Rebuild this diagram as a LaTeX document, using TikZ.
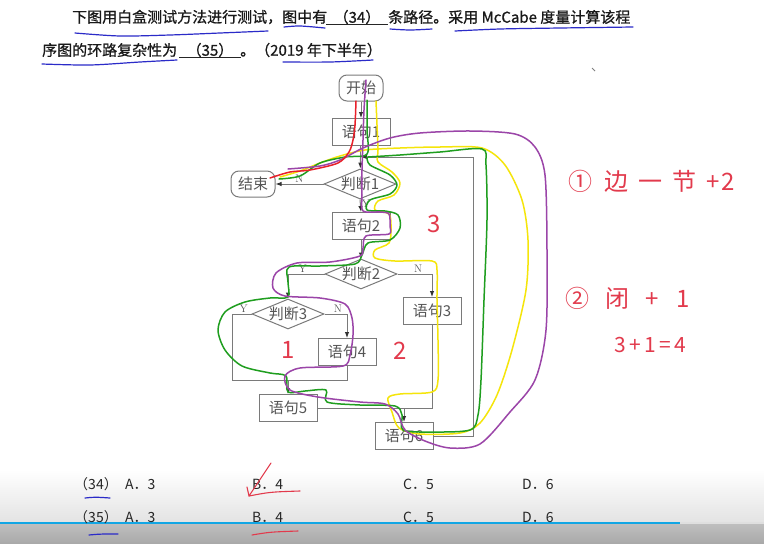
\documentclass[tikz,border=0pt]{standalone}
\usepackage{fontspec}
\newfontfamily\cjk{Noto Sans CJK SC}
\newfontfamily\cjkhead{Noto Sans CJK SC}[FakeBold=0.8]
\usetikzlibrary{shapes.geometric,arrows.meta,positioning,calc}

\definecolor{flowgray}{HTML}{7A7A7A}
\definecolor{textgray}{HTML}{555555}
\definecolor{penred}{HTML}{E8202A}
\definecolor{pengreen}{HTML}{1F9E1F}
\definecolor{penyellow}{HTML}{F5E50A}
\definecolor{penpurple}{HTML}{9B45A8}
\definecolor{penblue}{HTML}{2B2BC8}
\definecolor{inkred}{HTML}{E23A4C}
\definecolor{barblue}{HTML}{12A6E4}

\tikzset{
  hdr/.style={font=\cjkhead\fontsize{15}{18}\selectfont, text=black!90, inner sep=0pt},
  blank/.style={hdr, minimum width=61pt},
  opt/.style={font=\cjk\fontsize{14}{16}\selectfont, text=black!85, inner sep=0pt},
  flow/.style={draw=flowgray, line width=1pt},
  arr/.style={flow, -{Latex[length=6pt, width=4.5pt, color=black!80]}},
  box/.style={rectangle, draw=flowgray, line width=1pt, minimum width=58pt, minimum height=27pt,
    inner sep=0pt, font=\cjk\fontsize{15}{15}\selectfont, text=textgray},
  term/.style={box, rounded corners=8pt, minimum width=44pt, minimum height=26pt},
  dec/.style={diamond, draw=flowgray, line width=1pt, minimum width=72pt, minimum height=30pt,
    inner sep=0pt, label={[font=\cjk\fontsize{15}{15}\selectfont, text=textgray]center:#1}},
  yn/.style={font=\fontsize{11}{11}\selectfont, text=textgray, inner sep=1pt},
  pen/.style={line width=1.5pt, line cap=round, line join=round},
  ink/.style={font=\cjk\fontsize{24}{24}\selectfont, text=inkred, inner sep=0pt}
}

\begin{document}
\begin{tikzpicture}[x=1pt, y=-1pt]
  \useasboundingbox (0,0) rectangle (764,544);
  \fill[white] (0,0) rectangle (764,544);
  % player bar at the bottom
  \shade[top color=white, bottom color=gray!22] (0,470) rectangle (764,523);
  \shade[top color=gray!50, bottom color=gray!68] (0,523) rectangle (764,544);
  \draw[gray!25, line width=2.5pt] (680,523) -- (764,523);
  \draw[barblue, line width=2.5pt] (0,523) -- (680,523);

  % question text
  \node[hdr, anchor=west] (t1) at (72,17) {下图用白盒测试方法进行测试，图中有};
  \node[blank] (b34) at (357,17) {（34）};
  \node[hdr, anchor=west] (t2) at (388,17) {条路径。采用 McCabe 度量计算该程};
  \node[hdr, anchor=west] (t3) at (42,50) {序图的环路复杂性为};
  \node[blank] (b35) at (210,50) {（35）};
  \node[hdr, anchor=west] (t4) at (240,50) {。（2019 年下半年）};
  \draw[black!85, line width=0.8pt] (b34.south west) -- (b34.south east);
  \draw[black!85, line width=0.8pt] (b35.south west) -- (b35.south east);

  % flowchart
  \node[term] (start) at (361,88) {开始};
  \node[box] (s1) at (361,132) {语句1};
  \node[dec=判断1] (j1) at (360,184) {};
  \node[term] (fin) at (253,184) {结束};
  \node[box] (s2) at (361,226) {语句2};
  \node[dec=判断2] (j2) at (361,274) {};
  \node[dec=判断3] (j3) at (288,314) {};
  \node[box] (s3) at (432,311) {语句3};
  \node[box] (s4) at (347,352) {语句4};
  \node[box] (s5) at (288,408) {语句5};
  \node[box] (s6) at (404,436) {语句6};

  \coordinate (jl) at (232,380);
  \coordinate (jr) at (s4.south |- jl);
  \coordinate (m3) at (s5.north |- jl);
  \coordinate (m5) at (s6.north |- s5.east);
  \coordinate (lp) at (473,157);
  \coordinate (m1) at (s1.south |- lp);

  \draw[arr] (start) -- (s1);
  \draw[arr] (s1) -- (j1);
  \draw[arr] (j1.west) -- node[yn, above] {N} (fin.east);
  \draw[arr] (j1.south) -- node[yn, right, pos=0.3] {Y} (s2.north);
  \draw[arr] (s2) -- (j2);
  \draw[arr] (j2.west) -| node[yn, above, pos=0.3] {Y} (j3.north);
  \draw[arr] (j2.east) -| node[yn, above, pos=0.3] {N} (s3.north);
  \draw[arr] (j3.east) -| node[yn, above, pos=0.3] {N} (s4.north);
  \draw[flow] (j3.west) -| node[yn, above, pos=0.2] {Y} (jl) -- (jr) -- (s4.south);
  \draw[arr] (m3) -- (s5.north);
  \draw[flow] (s3.south) |- (s5.east);
  \draw[arr] (m5) -- (s6.north);
  \draw[arr] (s6.east) -| (lp) -- (m1);

  % hand-drawn paths
  \draw[pen, penyellow] plot[smooth, tension=0.5] coordinates {(376,101) (377,125) (378,150) (378,162)
    (392,172) (400,183) (394,195) (378,201) (375,210) (389,214) (391,228) (389,243) (375,250)
    (375,258) (395,261) (432,261) (437,270) (437,300) (438,340) (438,380) (432,392) (400,394)
    (388,398) (392,412) (399,428) (420,434) (460,433) (480,423) (497,395) (512,350) (526,290)
    (528,240) (522,200) (505,165) (482,148) (440,147) (400,148) (365,150) (340,156) (320,163)
    (300,171) (280,177)};
  \draw[pen, pengreen] plot[smooth, tension=0.5] coordinates {(367,100) (367,130) (367,154)
    (345,157) (320,163) (300,176) (279,179)};
  \draw[pen, pengreen] plot[smooth, tension=0.5] coordinates {(367,157) (370,165) (390,175)
    (397,185) (390,194) (370,200) (367,210) (385,211) (398,215) (400,228) (390,240) (368,243)
    (362,255) (355,264) (320,266) (289,267) (288,282) (288,297) (270,298) (245,302) (225,312)
    (218,330) (225,350) (242,366) (270,373) (286,376) (288,392) (305,391) (326,390) (327,402)
    (360,405) (395,406) (402,415) (403,430) (430,432) (470,430) (478,415) (481,380) (484,300)
    (487,220) (486,165) (482,149) (440,152) (400,155) (368,157)};
  \draw[pen, penpurple] plot[smooth, tension=0.5] coordinates {(366,80) (364,110) (363,140)
    (362,170) (362,195) (363,211) (380,212) (389,214) (390,226) (389,234) (366,236) (363,248)
    (360,256) (330,262) (297,263) (276,273) (273,288) (285,296) (320,298) (345,304) (352,318)
    (353,335) (350,355) (343,366) (300,368) (285,376) (290,390) (318,397) (360,402) (385,404)
    (398,414) (405,430) (425,441) (450,448) (480,444) (510,412) (535,380) (546,330) (547,250)
    (545,175) (535,147) (515,134) (470,131) (420,133) (390,138) (363,148) (340,160) (320,166)
    (288,169)};
  \draw[pen, penred] plot[smooth, tension=0.5] coordinates {(356,101) (355,125) (353,140)
    (349,152) (338,163) (310,170) (290,172) (270,178)};

  % hand-written notes
  \node[ink] (r3) at (434,224) {3};
  \node[ink] (r2) at (400,351) {2};
  \node[ink] (r1) at (288,350) {1};
  \node[ink, anchor=west] (n1) at (568,181) {①\hspace{12pt}边\hspace{10pt}一\hspace{10pt}节\hspace{10pt}+\hspace{2pt}2};
  \node[ink, anchor=west] (n2) at (565,298) {②\hspace{16pt}闭\hspace{16pt}+\hspace{18pt}1};
  \node[ink, anchor=west, font=\cjk\fontsize{21}{21}\selectfont] (n3) at (614,345) {3\,+\,1\,=\,4};
  \draw[gray, line width=0.8pt] (592,68) -- (595,71);

  % blue underlines
  \draw[pen, penblue, line width=1.2pt] plot[smooth] coordinates {(75,33) (120,36) (170,35) (220,33) (268,31)};
  \draw[pen, penblue, line width=1.2pt] plot[smooth] coordinates {(284,27) (300,26) (325,28)};
  \draw[pen, penblue, line width=1.2pt] plot[smooth] coordinates {(390,29) (410,30) (432,29)};
  \draw[pen, penblue, line width=1.2pt] plot[smooth] coordinates {(455,31) (500,29) (560,28) (633,27)};
  \draw[pen, penblue, line width=1.2pt] plot[smooth] coordinates {(42,64) (90,65) (140,62) (177,60)};
  \draw[pen, penblue, line width=1.2pt] plot[smooth] coordinates {(283,62) (330,62) (373,60)};

  % options
  \node[opt] (q34) at (96,484) {（34）};
  \node[opt, anchor=west] (a34) at (125,484) {A．3};
  \node[opt, anchor=west] (b34o) at (252,484) {B．4};
  \node[opt, anchor=west] (c34) at (403,484) {C．5};
  \node[opt, anchor=west] (d34) at (522,484) {D．6};
  \node[opt] (q35) at (96,517) {（35）};
  \node[opt, anchor=west] (a35) at (125,517) {A．3};
  \node[opt, anchor=west] (b35o) at (252,517) {B．4};
  \node[opt, anchor=west] (c35) at (403,517) {C．5};
  \node[opt, anchor=west] (d35) at (522,517) {D．6};

  \draw[pen, penblue, line width=1.2pt] (85,498) .. controls (95,497) .. (110,498);
  \draw[pen, penblue, line width=1.2pt] (89,535) .. controls (100,534) .. (118,534);
  \draw[pen, inkred, line width=1.1pt] (247,487) -- (249,496) -- (271,463);
  \draw[pen, inkred, line width=1.1pt] (249,496) .. controls (270,492) .. (300,491);
  \draw[pen, inkred, line width=1.1pt] (252,535) .. controls (270,532) .. (298,531);
\end{tikzpicture}
\end{document}
